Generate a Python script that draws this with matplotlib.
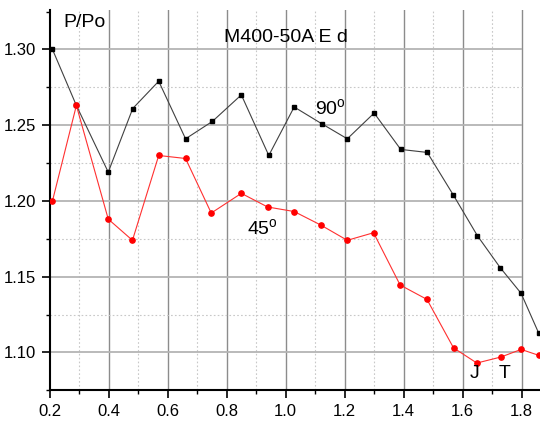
import matplotlib
matplotlib.use("Agg")
import matplotlib.pyplot as plt
from matplotlib.ticker import MultipleLocator

plt.rcParams['font.family'] = ['Liberation Sans', 'DejaVu Sans']
plt.rcParams['mathtext.fontset'] = 'custom'
plt.rcParams['mathtext.rm'] = 'Liberation Sans'

# values
x_90 = [0.21, 0.291, 0.399, 0.482, 0.570, 0.661, 0.752, 0.850, 0.943, 1.029,
        1.122, 1.209, 1.300, 1.390, 1.480, 1.568, 1.650, 1.727, 1.798, 1.857]
p_90 = [1.300, 1.263, 1.219, 1.261, 1.279, 1.241, 1.2525, 1.270, 1.230, 1.262,
        1.251, 1.241, 1.258, 1.234, 1.232, 1.204, 1.177, 1.156, 1.139, 1.113]

x_45 = [0.21, 0.291, 0.399, 0.481, 0.570, 0.661, 0.748, 0.850, 0.939, 1.029,
        1.120, 1.209, 1.298, 1.388, 1.479, 1.569, 1.648, 1.730, 1.798, 1.859]
p_45 = [1.200, 1.263, 1.188, 1.174, 1.230, 1.228, 1.192, 1.205, 1.196, 1.193,
        1.184, 1.174, 1.179, 1.1445, 1.135, 1.103, 1.093, 1.097, 1.102, 1.098]

title = "M400-50A E d"
ylabel = "P/Po"

fig = plt.figure(figsize=(5.4, 4.21), dpi=100)
ax = fig.add_axes([0.0917, 0.0729, 0.9083, 0.9033])
ax.set_xlim(0.2, 1.862)
ax.set_ylim(1.075, 1.326)

# grid: major solid, minor dotted; horizontal ones stop at 1.8
for xv in [0.4, 0.6, 0.8, 1.0, 1.2, 1.4, 1.6, 1.8]:
    ax.axvline(xv, color='#8c8c8c', lw=1.0, zorder=0)
for xv in [0.3, 0.5, 0.7, 0.9, 1.1, 1.3, 1.5, 1.7]:
    ax.axvline(xv, color='#c8c8c8', lw=0.8, ls=(0, (1.5, 2)), zorder=0)
ax.hlines([1.10, 1.15, 1.20, 1.25, 1.30], 0.2, 1.8, color='#b4b4b4', lw=1.3, zorder=0)
ax.hlines([1.125, 1.175, 1.225, 1.275], 0.2, 1.8, color='#c8c8c8', lw=0.8,
          linestyles=(0, (1.5, 2)), zorder=0)

ax.plot(x_90, p_90, color='#404040', lw=0.8, marker='s', ms=3.2,
        mfc='black', mec='black', zorder=3)
ax.plot(x_45, p_45, color='#ff3030', lw=0.8, marker='o', ms=3.8,
        mfc='#ff0000', mec='#ff0000', zorder=3)

ax.xaxis.set_major_locator(MultipleLocator(0.2))
ax.xaxis.set_minor_locator(MultipleLocator(0.1))
ax.yaxis.set_major_locator(MultipleLocator(0.05))
ax.yaxis.set_minor_locator(MultipleLocator(0.025))
ax.xaxis.set_major_formatter(matplotlib.ticker.FormatStrFormatter('%.1f'))
ax.yaxis.set_major_formatter(matplotlib.ticker.FormatStrFormatter('%.2f'))
ax.tick_params(which='major', direction='out', length=6, width=1.2, labelsize=12)
ax.tick_params(which='minor', direction='out', length=3, width=1.0)

ax.spines['top'].set_visible(False)
ax.spines['right'].set_visible(False)
ax.spines['left'].set_linewidth(1.5)
ax.spines['bottom'].set_linewidth(1.5)

ax.text(0.247, 1.3147, ylabel, fontsize=14)
ax.text(0.791, 1.3048, title, fontsize=14)
ax.text(1.099, 1.2567, r"90$^\mathrm{o}$", fontsize=14)
ax.text(0.869, 1.1775, r"45$^\mathrm{o}$", fontsize=14)
ax.text(1.625, 1.0833, "J", fontsize=14)
ax.text(1.721, 1.0833, "T", fontsize=14)

plt.savefig("out.png", dpi=100)
